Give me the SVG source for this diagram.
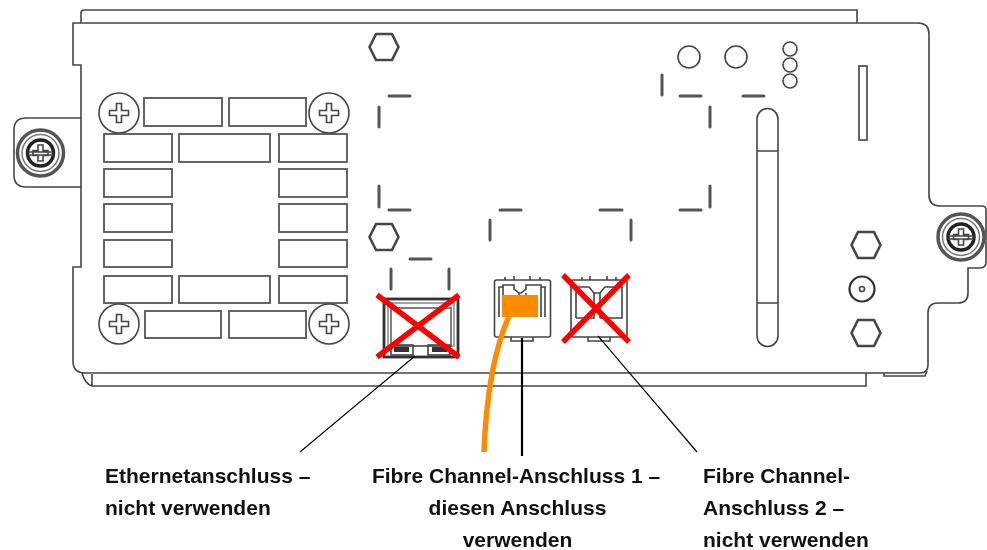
<svg xmlns="http://www.w3.org/2000/svg" width="987" height="550" viewBox="0 0 987 550">
<style>
.o{fill:none;stroke:#444;stroke-width:1.6}
.w{fill:#fff;stroke:#444;stroke-width:1.6}
.g{fill:#fff;stroke:#555;stroke-width:1.8}
.d{fill:none;stroke:#555;stroke-width:3;stroke-linecap:round}
.h{fill:#fff;stroke:#444;stroke-width:2.6;stroke-linejoin:round}
.x{stroke:#f00;stroke-width:5.5;fill:none}
.l{stroke:#000;fill:none}
.s{filter:url(#soft)}
text{font-family:"Liberation Sans",Arial,sans-serif;font-weight:700;font-size:21px;fill:#111}
</style>
<defs>
<filter id="soft" x="-5%" y="-5%" width="110%" height="110%"><feGaussianBlur stdDeviation="0.45"/></filter>
<g id="ph"><circle r="20" class="w"/><path class="o" d="M-2.500-9.500h5v7h7v5h-7v7h-5v-7h-7v-5h7z"/></g>
<g id="sc"><circle r="23" fill="#fff" stroke="#555" stroke-width="3.500"/><circle r="18.500" fill="none" stroke="#777" stroke-width="1.500"/><circle r="13" fill="#fff" stroke="#222" stroke-width="3.500"/><path class="o" d="M-13-1H13M-13 2H13M-2.500-8h5v5.500h5v5h-5v5.500h-5v-5.500h-5v-5h5z"/></g>
<polygon id="hx" points="-14.500,0 -8,-13 8,-13 14.500,0 8,13 -8,13"/>
</defs>
<g id="chassis" class="s">
<path class="o" d="M81 23V13Q81 10 84 10H857V23"/>
<path class="o" d="M82 373Q85 384 92 386H866V373M92 373V386"/>
<path class="o" d="M884 373V376H925L927 371"/>
<path class="w" d="M73 23H918Q929 23 929 34V195Q929 206 940 206H982Q986 206 986 210V262Q986 268 980 268H968V293Q968 303 958 303H938Q928 303 928 313V365Q928 373 920 373H85Q73 373 73 361V267H81V118H26Q14 118 14 130V175Q14 187 26 187H81V65H73Z"/>
</g>
<rect id="mark" x="91" y="373" width="2" height="2" fill="#2c2"/>
<g id="vents" class="s">
<rect class="g" x="144" y="98" width="78" height="28"/><rect class="g" x="229" y="98" width="77" height="28"/>
<rect class="g" x="104" y="134" width="68" height="28"/><rect class="g" x="179" y="134" width="91" height="28"/><rect class="g" x="279" y="134" width="68" height="28"/>
<rect class="g" x="104" y="169" width="68" height="28"/><rect class="g" x="279" y="169" width="68" height="28"/>
<rect class="g" x="104" y="204" width="68" height="28"/><rect class="g" x="279" y="204" width="68" height="28"/>
<rect class="g" x="104" y="240" width="68" height="27"/><rect class="g" x="279" y="240" width="68" height="27"/>
<rect class="g" x="104" y="276" width="68" height="27"/><rect class="g" x="179" y="276" width="91" height="27"/><rect class="g" x="279" y="276" width="68" height="27"/>
<rect class="g" x="145" y="311" width="76" height="27"/><rect class="g" x="229" y="311" width="77" height="27"/>
</g>
<g id="screws" class="s">
<use href="#ph" x="119" y="113"/><use href="#ph" x="329" y="113"/><use href="#ph" x="119" y="324"/><use href="#ph" x="329" y="324"/>
<use href="#sc" x="40.500" y="153"/><use href="#sc" x="961" y="237"/>
</g>
<g id="panel" class="s">
<use href="#hx" class="h" x="384" y="47"/><use href="#hx" class="h" x="384" y="237"/><use href="#hx" class="h" x="866" y="245"/><use href="#hx" class="h" x="866" y="333"/>
<path class="d" d="M389 96H410M379 107V127M379 186V207M389 210H410M500 210H521M600 210H622M490 220V240M631 220V240M410 259H431M391 269V289M449 269V289M662 75V95M680 96H701M743 96H764M710 107V127M710 186V207M680 210H701"/>
<circle class="o" cx="689" cy="57" r="11"/><circle class="o" cx="736" cy="57" r="11"/>
<circle class="o" cx="790" cy="49" r="7" stroke-width="2"/><circle class="o" cx="790" cy="65" r="7" stroke-width="2"/><circle class="o" cx="790" cy="81" r="7" stroke-width="2"/>
<rect class="g" x="859" y="66" width="8" height="74"/>
<path class="o" d="M757 119A10.500 10.500 0 0 1 778 119V336A10.500 10.500 0 0 1 757 336ZM757 151H778M757 303H778"/>
<circle cx="862" cy="289" r="12.500" fill="#fff" stroke="#333" stroke-width="2.200"/><circle class="o" cx="862" cy="289" r="2.500"/>
</g>
<g id="port-ethernet" class="s">
<rect x="384" y="299" width="74" height="58" fill="#fff" stroke="#333" stroke-width="2.800"/>
<rect x="388" y="303" width="66" height="43" fill="none" stroke="#888" stroke-width="1.500"/>
<rect x="391" y="308" width="60" height="38" fill="none" stroke="#555" stroke-width="1.500"/>
<rect class="o" x="391" y="345" width="22" height="10"/><rect class="o" x="428" y="345" width="22" height="10"/>
<rect x="394" y="347" width="15" height="5" fill="#333"/><rect x="432" y="347" width="15" height="5" fill="#333"/>
</g>
<g id="port-fc1" class="s">
<rect class="w" x="494.500" y="280" width="56" height="57" rx="2" stroke-width="2"/>
<path class="o" d="M499 317V287H503V285H514V289L519 293H521L526 289V285H541V287H545V317M503 285V317M541 285V317M519 293V317M526 293V317M514 280V276M530 280V276M505 280V277M540 280V277M511 337V341H533V337"/>
</g>
<g id="port-fc2" class="s">
<rect class="w" x="571" y="280" width="56" height="57" rx="2" stroke-width="2"/>
<path class="o" d="M576 318V287H589L594 293V318H576M600 318V293L605 287H622V318H600M594 293H600M590 280V276M607 280V276M582 280V277M616 280V277M588 337V341H610V337"/>
</g>
<rect id="fc1-plug" x="502" y="295" width="36" height="22" fill="#ff8c00"/>
<g id="connectors">
<path class="l" d="M415 356L300 452M598 336L697 452" stroke-width="1.200"/>
<path class="l" d="M522 338V456" stroke-width="2.200"/>
<path d="M509 316C494 350 486 400 484 452" fill="none" stroke="#ff8c00" stroke-width="5.500"/>
<path class="x" d="M377 295L459 357M459 295L377 357"/>
<path class="x" d="M563 275L629 342M629 275L563 342"/>
</g>
<g id="labels">
<text x="105" y="483">Ethernetanschluss –</text>
<text x="105" y="515">nicht verwenden</text>
<text x="516" y="483" text-anchor="middle">Fibre Channel-Anschluss 1 –</text>
<text x="517.500" y="515" text-anchor="middle">diesen Anschluss</text>
<text x="517.500" y="547" text-anchor="middle">verwenden</text>
<text x="703" y="483">Fibre Channel-</text>
<text x="703" y="515">Anschluss 2 –</text>
<text x="703" y="547">nicht verwenden</text>
</g>
</svg>
